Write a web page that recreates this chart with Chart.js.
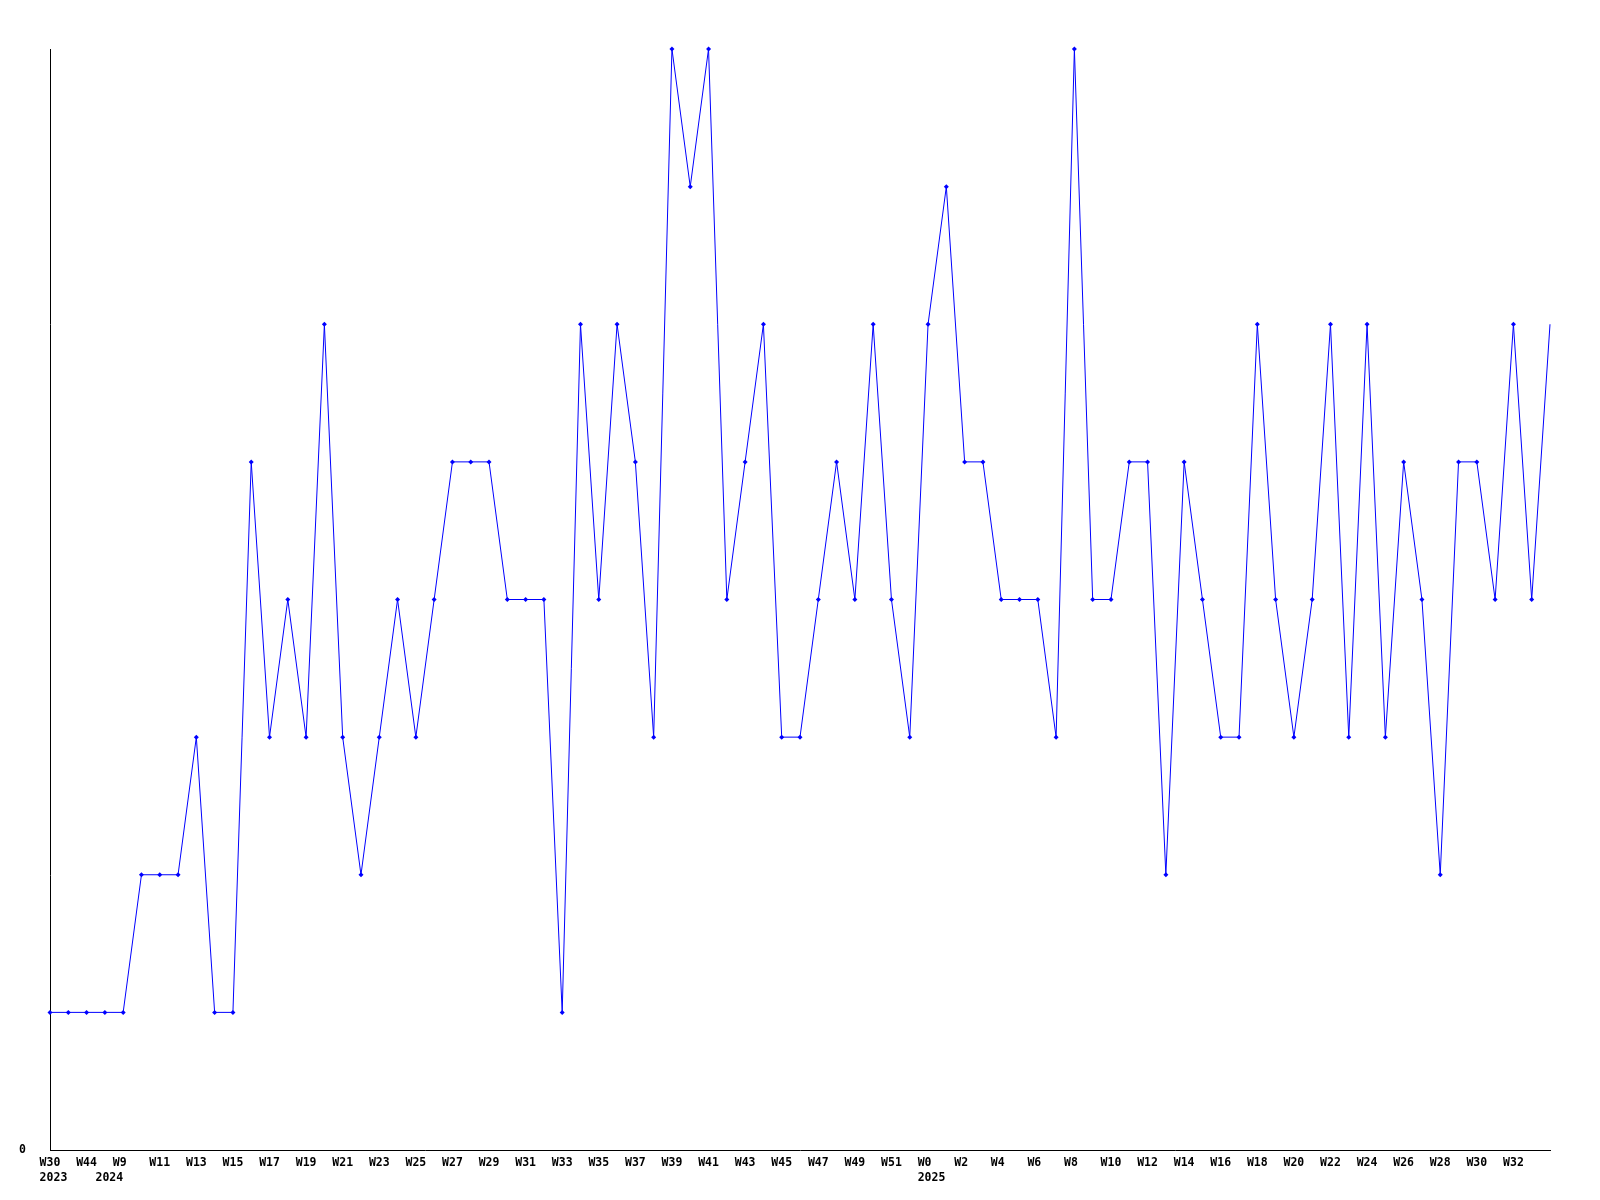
<!DOCTYPE html>
<html>
<head>
<meta charset="utf-8">
<script src="https://cdn.jsdelivr.net/npm/chart.js@4/dist/chart.umd.min.js"></script>
<style>
html,body{margin:0;padding:0;background:#fff;}
canvas{display:block;}
</style>
</head>
<body>
<canvas id="c" width="1600" height="1200"></canvas>
<script>
const weekLabels = ["W30","W37","W44","W52","W9","W10","W11","W12","W13","W14","W15","W16","W17","W18","W19","W20","W21","W22","W23","W24","W25","W26","W27","W28","W29","W30","W31","W32","W33","W34","W35","W36","W37","W38","W39","W40","W41","W42","W43","W44","W45","W46","W47","W48","W49","W50","W51","W52","W0","W1","W2","W3","W4","W5","W6","W7","W8","W9","W10","W11","W12","W13","W14","W15","W16","W17","W18","W19","W20","W21","W22","W23","W24","W25","W26","W27","W28","W29","W30","W31","W32","W33","W34"];
const yearLabels = {0:"2023", 4:"2024", 48:"2025"};
const values = [1,1,1,1,1,2,2,2,3,1,1,5,3,4,3,6,3,2,3,4,3,4,5,5,5,4,4,4,1,6,4,6,5,3,8,7,8,4,5,6,3,3,4,5,4,6,4,3,6,7,5,5,4,4,4,3,8,4,4,5,5,2,5,4,3,3,6,4,3,4,6,3,6,3,5,4,2,5,5,4,6,4,6];
const yTickValues = [0];

const labels = weekLabels.map((w,i)=> yearLabels[i] ? [w, yearLabels[i]] : w);
const FONT = {family:"'DejaVu Sans Mono', monospace", size:11.5, weight:'bold', lineHeight:1.3};

new Chart(document.getElementById('c'), {
  type:'line',
  data:{
    labels: labels,
    datasets:[{
      data: values,
      borderColor:'#0000ff',
      backgroundColor:'#0000ff',
      borderWidth:1,
      tension:0,
      pointStyle:'rectRot',
      pointRadius: ctx => ctx.dataIndex === values.length-1 ? 0 : 2.5,
      pointBorderWidth:0,
      pointBackgroundColor:'#0000ff',
      clip:false,
      fill:false
    }]
  },
  options:{
    responsive:false,
    animation:false,
    devicePixelRatio:1,
    layout:{padding:{top:49,right:50,left:0,bottom:0}},
    plugins:{legend:{display:false},tooltip:{enabled:false}},
    scales:{
      x:{
        type:'category',
        offset:false,
        grid:{display:false, drawTicks:false},
        border:{display:true,color:'#000',width:1},
        afterFit: s => { s.height = 50; },
        ticks:{
          autoSkip:false,
          maxRotation:0,
          minRotation:0,
          padding:6,
          color:'#000',
          font:FONT,
          callback:function(v,i){
            if(i % 2 !== 0 || i === weekLabels.length-1) return '';
            let w = weekLabels[i];
            if(w.length === 2) w = w + ' ';
            const y = yearLabels[i];
            if(!y) return w;
            let yl = y;
            if(i === 4) yl = y + '    ';
            else yl = ' ' + y;
            return [w, yl];
          }
        }
      },
      y:{
        min:0,
        max:8,
        grid:{display:false, drawTicks:false},
        border:{display:true,color:'#000',width:1},
        afterFit: s => { s.width = 50; },
        afterBuildTicks: s => { s.ticks = yTickValues.map(v=>({value:v})); },
        ticks:{
          padding:24,
          color:'#000',
          font:FONT,
          callback: v => String(v)
        }
      }
    }
  }
});
</script>
</body>
</html>
